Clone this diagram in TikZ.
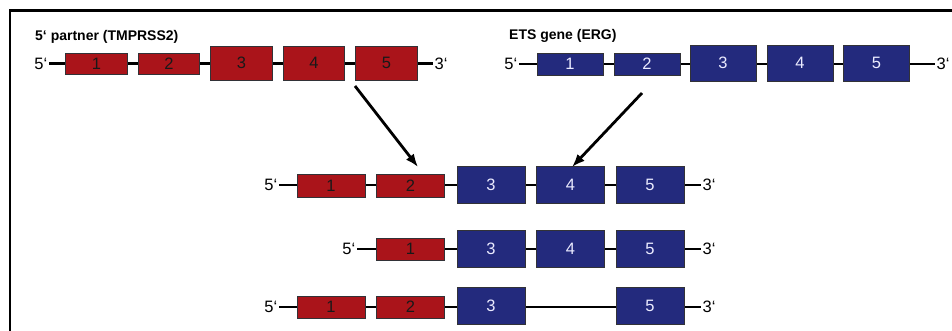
\documentclass[tikz,border=0pt]{standalone}
\usepackage{fontspec}
\setmainfont{Liberation Sans}
\usetikzlibrary{arrows.meta}
\definecolor{exonred}{RGB}{170,20,26}
\definecolor{exonblue}{RGB}{35,42,125}
\definecolor{exonedge}{RGB}{50,50,55}
\tikzset{
  exon/.style={draw=exonedge, line width=0.9pt, inner sep=0pt, font=\fontsize{16.5}{16.5}\selectfont},
  redex/.style={exon, fill=exonred, text=black!90},
  blueex/.style={exon, fill=exonblue, text=white!92!blue},
  endlbl/.style={inner sep=1.5pt, font=\fontsize{16.5}{16.5}\selectfont},
  intron/.style={line width=2.4pt, black},
  title/.style={inner sep=0pt, anchor=west, font=\fontsize{14}{14}\selectfont\bfseries},
  fusearrow/.style={line width=2.8pt, -{Latex[length=13pt,width=10pt]}},
}
\begin{document}
\begin{tikzpicture}[x=1pt,y=-1pt]
\useasboundingbox (0,0) rectangle (952,331);
\begin{scope}
\clip (0,0) rectangle (952,331);
% frame
\draw[line width=2.5pt] (10,340) -- (10,10.5) -- (960,10.5);

% ---- 5' partner (TMPRSS2)
\node[title] (tT) at (35,37) {5‘ partner (TMPRSS2)};
\node[endlbl, anchor=east] (a5) at (49,63.5) {5‘};
\node[endlbl, anchor=west] (a3) at (433,63.5) {3‘};
\draw[intron] (a5.east) -- (a3.west);
\node[redex, minimum width=61.5, minimum height=21] (a1) at (96.5,63.5) {1};
\node[redex, minimum width=61.5, minimum height=21] (a2) at (169,63.5) {2};
\node[redex, minimum width=61.5, minimum height=34] (aa3) at (241.5,63) {3};
\node[redex, minimum width=61.5, minimum height=34] (a4) at (314,63) {4};
\node[redex, minimum width=61.5, minimum height=34] (aa5) at (386.5,63) {5};

% ---- ETS gene (ERG)
\node[title] (tE) at (509,36) {ETS gene (ERG)};
\node[endlbl, anchor=east] (b5) at (519,64) {5‘};
\node[endlbl, anchor=west] (b3) at (935,64) {3‘};
\draw[intron] (b5.east) -- (b3.west);
\node[blueex, minimum width=66, minimum height=22] (b1) at (570,64) {1};
\node[blueex, minimum width=66, minimum height=22] (b2) at (647,64) {2};
\node[blueex, minimum width=66, minimum height=36] (bb3) at (723,63) {3};
\node[blueex, minimum width=66, minimum height=36] (b4) at (800,63) {4};
\node[blueex, minimum width=66, minimum height=36] (bb5) at (876.5,63) {5};

% ---- fusion transcript 1-2 / 3-4-5
\node[endlbl, anchor=east] (c5) at (279,185) {5‘};
\node[endlbl, anchor=west] (c3) at (701,185) {3‘};
\draw[intron] (c5.east) -- (c3.west);
\node[redex, minimum width=68, minimum height=23] (c1) at (331,185.5) {1};
\node[redex, minimum width=68, minimum height=23] (c2) at (410.5,185.5) {2};
\node[blueex, minimum width=68, minimum height=37] (cc3) at (491,184.5) {3};
\node[blueex, minimum width=68, minimum height=37] (c4) at (570.5,184.5) {4};
\node[blueex, minimum width=68, minimum height=37] (cc5) at (650,184.5) {5};

% ---- fusion transcript 1 / 3-4-5
\node[endlbl, anchor=east] (d5) at (357,249) {5‘};
\node[endlbl, anchor=west] (d3) at (701,249) {3‘};
\draw[intron] (d5.east) -- (d3.west);
\node[redex, minimum width=68, minimum height=22] (d1) at (410.5,249) {1};
\node[blueex, minimum width=68, minimum height=37] (dd3) at (491,248.5) {3};
\node[blueex, minimum width=68, minimum height=37] (d4) at (570.5,248.5) {4};
\node[blueex, minimum width=68, minimum height=37] (dd5) at (650,248.5) {5};

% ---- fusion transcript 1-2 / 3 / 5
\node[endlbl, anchor=east] (e5) at (279,307) {5‘};
\node[endlbl, anchor=west] (e3) at (701,307) {3‘};
\draw[intron] (e5.east) -- (e3.west);
\node[redex, minimum width=68, minimum height=22] (e1) at (331,307) {1};
\node[redex, minimum width=68, minimum height=22] (e2) at (410.5,307) {2};
\node[blueex, minimum width=68, minimum height=37] (ee3) at (491,305.5) {3};
\node[blueex, minimum width=68, minimum height=37] (ee5) at (650,305.5) {5};

% ---- fusion arrows
\coordinate (p1) at (355,86);
\coordinate (q1) at (418,167);
\coordinate (p2) at (642,93);
\coordinate (q2) at (572,167);
\draw[fusearrow] (p1) -- (q1);
\draw[fusearrow] (p2) -- (q2);
\end{scope}
\end{tikzpicture}
\end{document}
